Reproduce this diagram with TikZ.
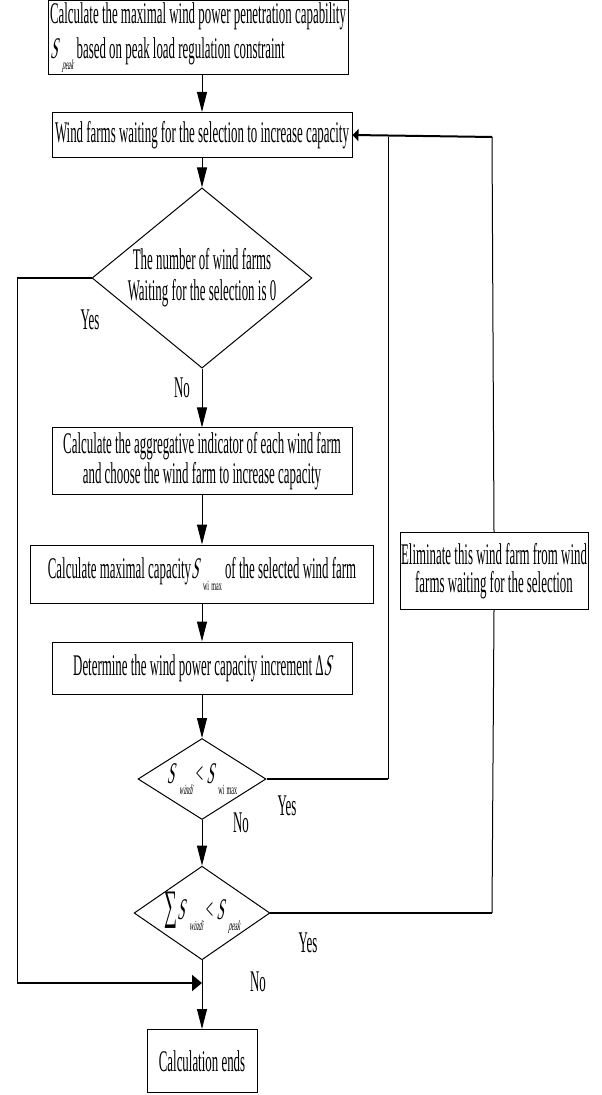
\documentclass[tikz,border=0pt]{standalone}
\usepackage{fontspec}
\setmainfont{Liberation Serif}[FakeStretch=0.43]
\newfontfamily\varfont{Liberation Serif}[FakeStretch=0.43, FakeSlant=0.21]
\usepackage{tikz}
\usetikzlibrary{arrows.meta, shapes.geometric, calc}
\definecolor{ink}{HTML}{000000}
\newcommand{\itx}[1]{{\varfont #1}}
\newcommand{\Ssub}[1]{\itx{S}\kern2.4pt\raisebox{-0.8ex}{\scriptsize #1}}
\newcommand{\flowfont}{\fontsize{15}{15}\selectfont}
\tikzset{
  procbox/.style={draw=ink, line width=0.5pt, rectangle, inner sep=0pt, align=center, font=\flowfont},
  decide/.style={draw=ink, line width=0.5pt, diamond, inner sep=0pt, align=center, font=\flowfont},
  flow/.style={ink, line width=0.5pt, -{Triangle[length=10pt,width=5pt]}},
  thinline/.style={ink, line width=0.5pt},
  loopline/.style={ink, line width=1pt},
  note/.style={text=ink, inner sep=0pt, font=\flowfont}
}

\begin{document}
\begin{tikzpicture}[x=0.5pt, y=-0.5pt]
    \useasboundingbox (0,0) rectangle (601,1095);

    \node[procbox, align=left, minimum width=150pt, minimum height=37pt,
          font=\fontsize{15}{17.5}\selectfont] (peak) at (198,38)
      {Calculate the maximal wind power penetration capability\\\Ssub{\itx{peak}} based on peak load regulation constraint};
    \node[procbox, minimum width=150pt, minimum height=22.5pt] (waiting) at (202,135)
      {Wind farms waiting for the selection to increase capacity};
    \node[decide, shape aspect=1.22, minimum width=106pt, minimum height=87pt,
          font=\fontsize{15}{15.5}\selectfont] (empty) at (202,278)
      {The number of wind farms\\Waiting for the selection is 0};
    \node[procbox, minimum width=150pt, minimum height=33pt,
          font=\fontsize{15}{13}\selectfont] (choose) at (202,461)
      {Calculate the aggregative indicator of each wind farm\\and choose the wind farm to increase capacity};
    \node[procbox, minimum width=171.5pt, minimum height=29pt] (maxcap) at (202,574)
      {Calculate maximal capacity\Ssub{wi\,max} of the selected wind farm};
    \node[procbox, minimum width=150pt, minimum height=26pt] (incr) at (202,668)
      {Determine the wind power capacity increment Δ\itx{S}};
    \node[decide, shape aspect=1.58, minimum width=64pt, minimum height=40.5pt] (below) at (202,779)
      {\Ssub{\itx{windi}} < \Ssub{wi\,max}};
    \node[decide, shape aspect=1.45, minimum width=64.5pt, minimum height=44.5pt] (total) at (202,913)
      {{\fontsize{21}{21}\selectfont ∑}\Ssub{\itx{windi}} < \Ssub{\itx{peak}}};
    \node[procbox, minimum width=55pt, minimum height=31.5pt] (ends) at (202,1061)
      {Calculation ends};
    \node[procbox, minimum width=94pt, minimum height=38.5pt,
          font=\fontsize{15}{14}\selectfont] (elim) at (494,571)
      {Eliminate this wind farm from wind\\farms waiting for the selection};

    \coordinate (yesA) at (17,278);
    \coordinate (yesB) at (17,983);
    \coordinate (merge) at (202,983);
    \coordinate (riseA) at (388,779);
    \coordinate (backA) at (388,137);
    \coordinate (backB) at (492,137);
    \coordinate (elimIn) at (492,913);

    \draw[flow] (peak.south -| waiting.north) -- (waiting.north);
    \draw[flow] (waiting) -- (empty);
    \draw[flow] (empty) -- (choose);
    \draw[flow] (choose) -- (maxcap);
    \draw[flow] (maxcap) -- (incr);
    \draw[flow] (incr) -- (below);
    \draw[flow] (below) -- (total);
    \draw[flow] (total) -- (ends);

    \draw[loopline] (empty.west) -- (yesA);
    \draw[thinline] (yesA) -- (yesB);
    \draw[loopline, -{Triangle[length=5pt,width=8pt]}] (yesB) -- (merge);

    \draw[loopline] (below.east) -- (riseA);
    \draw[thinline] (riseA) -- (backA);
    \draw[loopline] (total.east) -- (elimIn);
    \draw[thinline] (elimIn) -- (elim.south);
    \draw[thinline] (elim.north) -- (backB);
    \draw[loopline, -{Triangle[length=3pt,width=6pt]}] (backB) -- (waiting.east);

    \node[note] (yesEmpty) at (90,320) {Yes};
    \node[note] (noEmpty) at (182,388) {No};
    \node[note] (yesBelow) at (287,806) {Yes};
    \node[note] (noBelow) at (241,823) {No};
    \node[note] (yesTotal) at (308,943) {Yes};
    \node[note] (noTotal) at (258,982) {No};
  \end{tikzpicture}
\end{document}
